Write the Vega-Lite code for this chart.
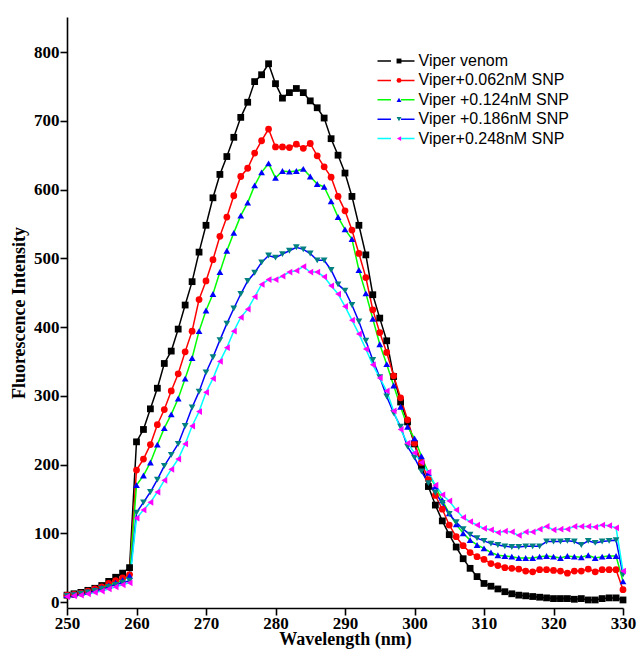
{
"$schema": "https://vega.github.io/schema/vega-lite/v6.json",
"width": 556,
"height": 591,
"autosize": {"type": "none"},
"padding": {"left": 67, "top": 17, "right": 18, "bottom": 41},
"background": "white",
"config": {
  "view": {"stroke": null},
  "axis": {"grid": false, "domainColor": "#000", "tickColor": "#000", "labelColor": "#000", "titleColor": "#000",
    "labelFont": "Liberation Serif", "labelFontWeight": "bold", "labelFontSize": 17,
    "titleFont": "Liberation Serif", "titleFontWeight": "bold", "titleFontSize": 18,
    "domainWidth": 1.6, "tickWidth": 1.6, "labelFlush": false}
},
"data": {"values": [
{"w":250,"a":10,"b":10,"c":10,"d":9,"e":8},
{"w":251,"a":12,"b":11,"c":11,"d":10,"e":9},
{"w":252,"a":14,"b":13,"c":13,"d":12,"e":10},
{"w":253,"a":17,"b":16,"c":15,"d":14,"e":12},
{"w":254,"a":20,"b":19,"c":18,"d":16,"e":14},
{"w":255,"a":24,"b":22,"c":21,"d":19,"e":16},
{"w":256,"a":30,"b":27,"c":24,"d":22,"e":19},
{"w":257,"a":36,"b":31,"c":28,"d":25,"e":22},
{"w":258,"a":42,"b":35,"c":32,"d":28,"e":25},
{"w":259,"a":50,"b":40,"c":38,"d":31,"e":28},
{"w":260,"a":233,"b":192,"c":170,"d":130,"e":122},
{"w":261,"a":251,"b":208,"c":184,"d":145,"e":134},
{"w":262,"a":281,"b":229,"c":203,"d":160,"e":145},
{"w":263,"a":311,"b":258,"c":229,"d":178,"e":160},
{"w":264,"a":347,"b":280,"c":253,"d":198,"e":177},
{"w":265,"a":365,"b":307,"c":273,"d":214,"e":193},
{"w":266,"a":397,"b":332,"c":296,"d":230,"e":208},
{"w":267,"a":432,"b":364,"c":325,"d":256,"e":230},
{"w":268,"a":466,"b":394,"c":355,"d":283,"e":256},
{"w":269,"a":509,"b":440,"c":394,"d":306,"e":277},
{"w":270,"a":548,"b":467,"c":424,"d":334,"e":305},
{"w":271,"a":588,"b":498,"c":448,"d":356,"e":325},
{"w":272,"a":622,"b":532,"c":480,"d":381,"e":350},
{"w":273,"a":648,"b":560,"c":511,"d":405,"e":370},
{"w":274,"a":676,"b":591,"c":537,"d":427,"e":394},
{"w":275,"a":705,"b":619,"c":562,"d":448,"e":414},
{"w":276,"a":727,"b":631,"c":581,"d":467,"e":426},
{"w":277,"a":757,"b":653,"c":606,"d":479,"e":444},
{"w":278,"a":767,"b":671,"c":625,"d":494,"e":462},
{"w":279,"a":783,"b":688,"c":638,"d":504,"e":469},
{"w":280,"a":754,"b":662,"c":617,"d":501,"e":469},
{"w":281,"a":733,"b":662,"c":627,"d":506,"e":474},
{"w":282,"a":741,"b":661,"c":626,"d":511,"e":480},
{"w":283,"a":747,"b":666,"c":627,"d":516,"e":482},
{"w":284,"a":741,"b":660,"c":630,"d":513,"e":488},
{"w":285,"a":729,"b":667,"c":619,"d":507,"e":480},
{"w":286,"a":719,"b":649,"c":608,"d":497,"e":480},
{"w":287,"a":704,"b":633,"c":604,"d":497,"e":473},
{"w":288,"a":674,"b":618,"c":583,"d":483,"e":460},
{"w":289,"a":650,"b":590,"c":560,"d":462,"e":448},
{"w":290,"a":624,"b":569,"c":542,"d":453,"e":430},
{"w":291,"a":590,"b":541,"c":528,"d":432,"e":410},
{"w":292,"a":548,"b":507,"c":483,"d":408,"e":390},
{"w":293,"a":505,"b":472,"c":449,"d":380,"e":368},
{"w":294,"a":447,"b":425,"c":412,"d":352,"e":345},
{"w":295,"a":413,"b":392,"c":375,"d":327,"e":326},
{"w":296,"a":380,"b":363,"c":346,"d":299,"e":307},
{"w":297,"a":328,"b":329,"c":315,"d":275,"e":278},
{"w":298,"a":291,"b":297,"c":284,"d":255,"e":251},
{"w":299,"a":262,"b":265,"c":255,"d":226,"e":231},
{"w":300,"a":230,"b":231,"c":238,"d":210,"e":217},
{"w":301,"a":198,"b":203,"c":212,"d":190,"e":203},
{"w":302,"a":168,"b":178,"c":188,"d":173,"e":189},
{"w":303,"a":141,"b":155,"c":168,"d":159,"e":170},
{"w":304,"a":118,"b":135,"c":148,"d":144,"e":156},
{"w":305,"a":98,"b":112,"c":129,"d":128,"e":147},
{"w":306,"a":80,"b":95,"c":113,"d":116,"e":134},
{"w":307,"a":63,"b":82,"c":100,"d":106,"e":123},
{"w":308,"a":49,"b":72,"c":90,"d":98,"e":117},
{"w":309,"a":37,"b":66,"c":83,"d":93,"e":112},
{"w":310,"a":27,"b":62,"c":78,"d":89,"e":107},
{"w":311,"a":23,"b":56,"c":72,"d":85,"e":105},
{"w":312,"a":19,"b":53,"c":68,"d":83,"e":101},
{"w":313,"a":15,"b":50,"c":67,"d":81,"e":103},
{"w":314,"a":12,"b":49,"c":66,"d":80,"e":102},
{"w":315,"a":10,"b":48,"c":64,"d":80,"e":97},
{"w":316,"a":9,"b":45,"c":64,"d":81,"e":102},
{"w":317,"a":8,"b":44,"c":64,"d":81,"e":102},
{"w":318,"a":7,"b":47,"c":66,"d":81,"e":106},
{"w":319,"a":6,"b":47,"c":67,"d":88,"e":110},
{"w":320,"a":5,"b":46,"c":66,"d":88,"e":105},
{"w":321,"a":5,"b":45,"c":64,"d":88,"e":106},
{"w":322,"a":5,"b":42,"c":67,"d":89,"e":106},
{"w":323,"a":4,"b":45,"c":66,"d":88,"e":110},
{"w":324,"a":5,"b":45,"c":65,"d":83,"e":110},
{"w":325,"a":3,"b":48,"c":68,"d":89,"e":110},
{"w":326,"a":3,"b":44,"c":64,"d":86,"e":109},
{"w":327,"a":5,"b":47,"c":66,"d":88,"e":112},
{"w":328,"a":6,"b":47,"c":67,"d":89,"e":111},
{"w":329,"a":6,"b":47,"c":67,"d":90,"e":108},
{"w":330,"a":3,"b":18,"c":30,"d":40,"e":45}
]},
"transform": [{"fold": ["a","b","c","d","e"], "as": ["s","v"]}],
"encoding": {
  "x": {"field": "w", "type": "quantitative",
    "scale": {"domain": [250, 330], "nice": false, "zero": false},
    "axis": {"values": [250,260,270,280,290,300,310,320,330], "title": "Wavelength (nm)", "tickSize": 7, "labelPadding": 0, "titlePadding": -1, "titleFontSize": 18}},
  "y": {"field": "v", "type": "quantitative",
    "scale": {"domain": [-8.7, 851], "nice": false, "zero": false},
    "axis": {"values": [0,100,200,300,400,500,600,700,800], "title": "Fluorescence Intensity", "tickSize": 7, "labelPadding": 1, "titlePadding": 5}}
},
"layer": [
  {"mark": {"type": "line", "strokeWidth": 1.5},
   "encoding": {"color": {"field": "s", "type": "nominal",
     "scale": {"domain": ["a","b","c","d","e"], "range": ["#000000","#FF0000","#00FF00","#0000FF","#00FFFF"]},
     "legend": {"title": null, "orient": "none", "legendX": 321, "legendY": 36, "padding": 0,
       "symbolType": "M-3.7,0H-1M1,0H3.7", "symbolSize": 100, "symbolStrokeWidth": 1.5,
       "labelFont": "Liberation Sans", "labelFontSize": 16, "labelColor": "#000", "labelOffset": 14.5, "rowPadding": 3.4,
       "labelExpr": "{'a':'Viper venom','b':'Viper+0.062nM SNP','c':'Viper +0.124nM SNP','d':'Viper +0.186nM SNP','e':'Viper+0.248nM SNP'}[datum.value]"}}}},
  {"mark": {"type": "point", "filled": true, "opacity": 1, "size": 46, "strokeWidth": 0},
   "encoding": {
     "fill": {"field": "s", "type": "nominal",
       "scale": {"range": ["#000000","#FF0000","#0000FF","#008080","#FF00FF"]},
       "legend": {"title": null, "orient": "none", "legendX": 324, "legendY": 36, "padding": 0, "symbolSize": 24, "symbolStrokeWidth": 0,
         "labelFont": "Liberation Sans", "labelFontSize": 16, "labelOpacity": 0, "rowPadding": 3.4}},
     "shape": {"field": "s", "type": "nominal",
       "scale": {"range": ["square","circle","triangle-up","triangle-down","triangle-left"]},
       "legend": {"title": null, "orient": "none", "legendX": 324, "legendY": 36, "padding": 0, "symbolSize": 24, "symbolStrokeWidth": 0,
         "labelFont": "Liberation Sans", "labelFontSize": 16, "labelOpacity": 0, "rowPadding": 3.4}}}}
]
}
